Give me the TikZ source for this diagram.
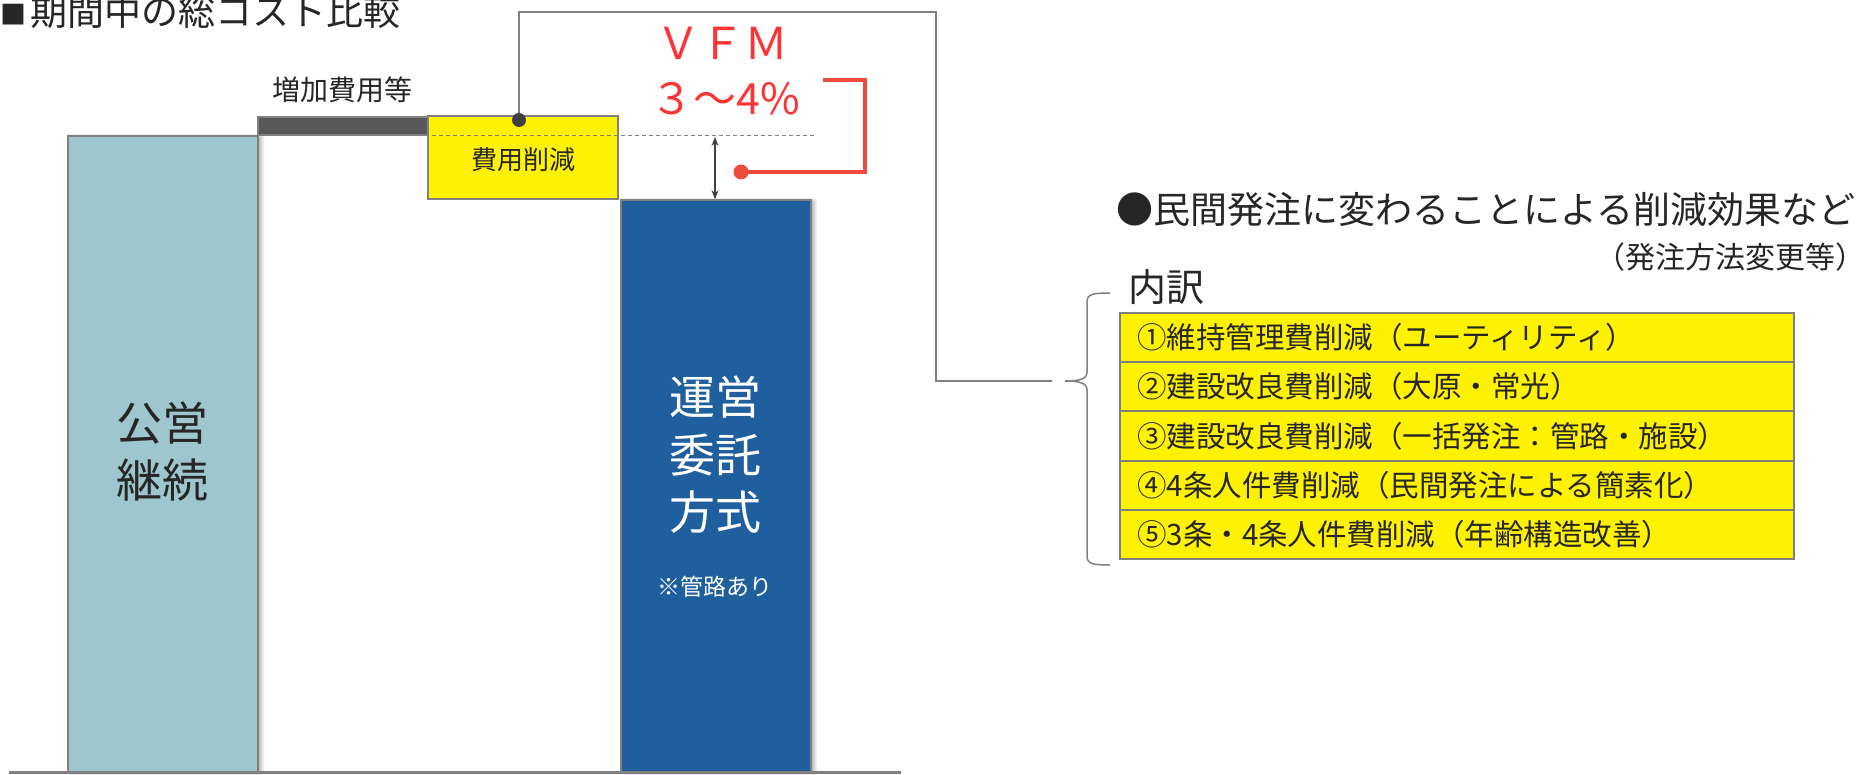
\documentclass[tikz,border=0pt]{standalone}
\usepackage{fontspec}
\setmainfont{Noto Sans CJK JP}
\usetikzlibrary{shadows.blur,arrows.meta}
\definecolor{lblue}{RGB}{157,198,207}
\definecolor{dblue}{RGB}{32,95,158}
\definecolor{bgray}{RGB}{128,128,128}
\definecolor{dgray}{RGB}{89,89,89}
\definecolor{txt}{RGB}{38,38,38}
\definecolor{vred}{RGB}{255,51,51}
\definecolor{lred}{RGB}{238,75,62}
\definecolor{ddot}{RGB}{64,64,64}
\newcommand{\fsz}[2]{\fontsize{#1}{#2}\selectfont}
\begin{document}
\begin{tikzpicture}[x=1pt,y=-1pt,
  bar/.style={draw=bgray, line width=1.5pt, inner sep=0pt},
  tallbar/.style={bar, minimum width=190pt, blur shadow={shadow xshift=3pt, shadow yshift=-1pt, shadow blur radius=4pt, shadow opacity=35}},
  txtnode/.style={inner sep=0pt, text=txt},
  rowbox/.style={draw=bgray, fill=yellow, line width=2pt, minimum width=674pt, minimum height=49.2pt, inner sep=0pt},
  rowtxt/.style={txtnode, anchor=west, font=\fsz{29.5}{32}},
  conn/.style={draw=bgray, line width=1.5pt},
  redline/.style={draw=lred, line width=3.5pt},
  dotnode/.style={circle, inner sep=0pt}]
\useasboundingbox (0,0) rectangle (1869,775);

% title
\node[txtnode, anchor=base west, font=\fsz{37}{40}] (title) at (0,26) {{\fsz{26}{30}\raisebox{1pt}{■}}\hspace{4pt}期間中の総コスト比較};

% bars
\node[tallbar, fill=lblue, minimum height=636pt] (kouei) at (163,454) {};
\node[txtnode, align=center, font=\fsz{46}{57}] (koueit) at (162,451) {公営\\継続};

\node[tallbar, fill=dblue, minimum height=572pt] (itaku) at (716,486) {};
\node[txtnode, text=white, align=center, font=\fsz{46}{57.5}] (itakut) at (715,455) {運営\\委託\\方式};
\node[txtnode, text=white, font=\fsz{23}{26}] (kanro) at (715,587) {※管路あり};

\node[bar, fill=dgray, minimum width=170pt, minimum height=18pt] (zouka) at (343,126) {};
\node[txtnode, font=\fsz{28}{32}] (zoukat) at (342,89.5) {増加費用等};

\node[bar, fill=yellow, minimum width=190pt, minimum height=83pt] (sakugen) at (523,157.5) {};
\node[txtnode, font=\fsz{26}{30}] (sakugent) at (523,160) {費用削減};

% dashed level line
\draw[bgray, line width=1pt, dash pattern=on 4pt off 3pt] (432,136) -- (814,136);

% baseline
\draw[bgray, line width=3pt] (9,772) -- (901,772);

% double arrow
\coordinate (vt) at (715,137);
\draw[ddot, line width=1.3pt, {Stealth[length=9pt,width=7pt]}-{Stealth[length=9pt,width=7pt]}] (vt) -- (vt |- itaku.north);

% VFM
\node[txtnode, text=vred, font=\fsz{44}{48}] (vfm) at (722,43) {ＶＦＭ};
\node[txtnode, text=vred, font=\fsz{43}{48}] (pct) at (725,99) {３～4\%};

% red bracket
\node[dotnode, fill=lred, minimum size=15pt] (rdot) at (741,172) {};
\coordinate (r1) at (823,80);
\coordinate (r2) at (865,80);
\draw[redline] (r1) -- (r2) |- (rdot.center);

% gray connector
\node[dotnode, fill=ddot, minimum size=14pt] (gdot) at (519,120) {};
\coordinate (c1) at (936,12);
\coordinate (bend) at (1052,381);
\draw[conn] (gdot.north) |- (c1) |- (bend);

% brace
\coordinate (btip) at (1065,381);
\draw[bgray, line width=1.5pt] (1110,293) .. controls (1093,293) and (1087,294) .. (1087,302) -- (1087,372) .. controls (1087,379) and (1080,381) .. (btip) .. controls (1080,381) and (1087,383) .. (1087,390) -- (1087,556) .. controls (1087,564) and (1093,565) .. (1110,565);

% right texts
\node[txtnode, anchor=west, font=\fsz{37}{40}] (head) at (1116,209) {●民間発注に変わることによる削減効果など};
\node[txtnode, anchor=east, font=\fsz{30}{34}] (sub) at (1866,257) {（発注方法変更等）};
\node[txtnode, anchor=west, font=\fsz{38}{42}] (uchi) at (1128,287) {内訳};

% rows
\node[rowbox] (row1) at (1457,337.5) {};
\node[rowbox] (row2) at (1457,386.7) {};
\node[rowbox] (row3) at (1457,435.9) {};
\node[rowbox] (row4) at (1457,485.1) {};
\node[rowbox] (row5) at (1457,534.3) {};
\node[rowtxt] (t1) at ([xshift=18pt]row1.west) {①維持管理費削減（ユーティリティ）};
\node[rowtxt] (t2) at ([xshift=18pt]row2.west) {②建設改良費削減（大原・常光）};
\node[rowtxt] (t3) at ([xshift=18pt]row3.west) {③建設改良費削減（一括発注：管路・施設）};
\node[rowtxt] (t4) at ([xshift=18pt]row4.west) {④4条人件費削減（民間発注による簡素化）};
\node[rowtxt] (t5) at ([xshift=18pt]row5.west) {⑤3条・4条人件費削減（年齢構造改善）};
\end{tikzpicture}
\end{document}
